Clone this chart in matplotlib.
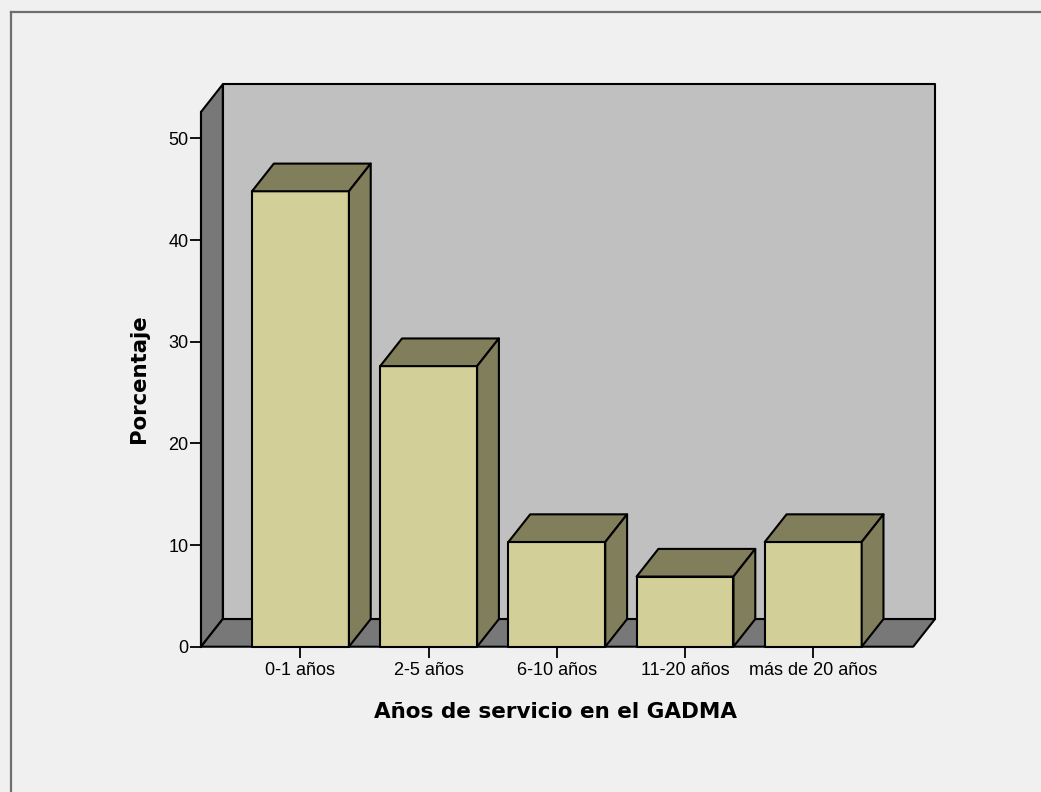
import matplotlib.pyplot as plt
from matplotlib.patches import Polygon
from matplotlib.lines import Line2D

# Años de servicio, porcentaje de encuestados
categorias = ["0-1 años", "2-5 años", "6-10 años", "11-20 años", "más de 20 años"]
porcentaje = [44.8, 27.6, 10.3, 6.9, 10.3]
yticks = [0, 10, 20, 30, 40, 50]

# colores estilo SPSS
FONDO = "#f0f0f0"
PARED = "#c0c0c0"
PARED_OSC = "#787878"
FRENTE = "#d3cf98"
LATERAL = "#807e5b"

W, H = 1041, 792
fig = plt.figure(figsize=(W / 100, H / 100), dpi=100)
fig.patch.set_facecolor(FONDO)

# marco exterior
fig.add_artist(Line2D([11 / W, 1], [1 - 12 / H, 1 - 12 / H], color="#6e6e6e", lw=1.6))
fig.add_artist(Line2D([11 / W, 11 / W], [0, 1 - 12 / H], color="#6e6e6e", lw=1.6))

# geometria de la caja 3D (unidades de datos)
x0, x1 = -0.776, 4.78
ytop = 52.6
dx, dy = 0.17, 2.72
half = 0.378

ax = fig.add_axes([201 / W, (H - 646.7) / H, 734 / W, 562.4 / H])
ax.set_xlim(x0, x1 + dx)
ax.set_ylim(0, ytop + dy)
ax.set_facecolor("none")

ec = dict(edgecolor="black", linewidth=1.5, joinstyle="round", clip_on=False)

# paredes y piso
ax.add_patch(Polygon([(x0 + dx, dy), (x1 + dx, dy), (x1 + dx, ytop + dy), (x0 + dx, ytop + dy)],
                     facecolor=PARED, zorder=1, **ec))
ax.add_patch(Polygon([(x0, 0), (x0 + dx, dy), (x0 + dx, ytop + dy), (x0, ytop)],
                     facecolor=PARED_OSC, zorder=1, **ec))
ax.add_patch(Polygon([(x0, 0), (x1, 0), (x1 + dx, dy), (x0 + dx, dy)],
                     facecolor=PARED_OSC, zorder=1, **ec))

# barras
for i, v in enumerate(porcentaje):
    a, b = i - half, i + half
    ax.add_patch(Polygon([(a, 0), (b, 0), (b, v), (a, v)], facecolor=FRENTE, zorder=3, **ec))
    ax.add_patch(Polygon([(a, v), (b, v), (b + dx, v + dy), (a + dx, v + dy)],
                         facecolor=LATERAL, zorder=3, **ec))
    ax.add_patch(Polygon([(b, 0), (b + dx, dy), (b + dx, v + dy), (b, v)],
                         facecolor=LATERAL, zorder=3, **ec))

for s in ["top", "right", "bottom"]:
    ax.spines[s].set_visible(False)
ax.spines["left"].set_bounds(0, ytop)
ax.spines["left"].set_linewidth(1.5)
ax.spines["left"].set_zorder(4)

ax.set_xticks(range(len(categorias)))
ax.set_xticklabels(categorias, fontfamily="Liberation Sans", fontsize=13)
ax.set_yticks(yticks)
ax.set_yticklabels([str(t) for t in yticks], fontfamily="Liberation Sans", fontsize=13)
ax.tick_params(axis="both", direction="out", length=8, width=1.3, color="black")
ax.tick_params(axis="x", pad=3)
ax.tick_params(axis="y", pad=1)

ax.text(-0.0845, 0.476, "Porcentaje", transform=ax.transAxes, rotation=90,
        ha="center", va="center", fontfamily="DejaVu Sans", fontweight="bold", fontsize=15.3)
ax.text((556 - 201) / 734, (646.7 - 718) / 562.4, "Años de servicio en el GADMA",
        transform=ax.transAxes, ha="center", va="baseline",
        fontfamily="DejaVu Sans", fontweight="bold", fontsize=15.5)

fig.savefig("out.png", dpi=100, facecolor=FONDO)
